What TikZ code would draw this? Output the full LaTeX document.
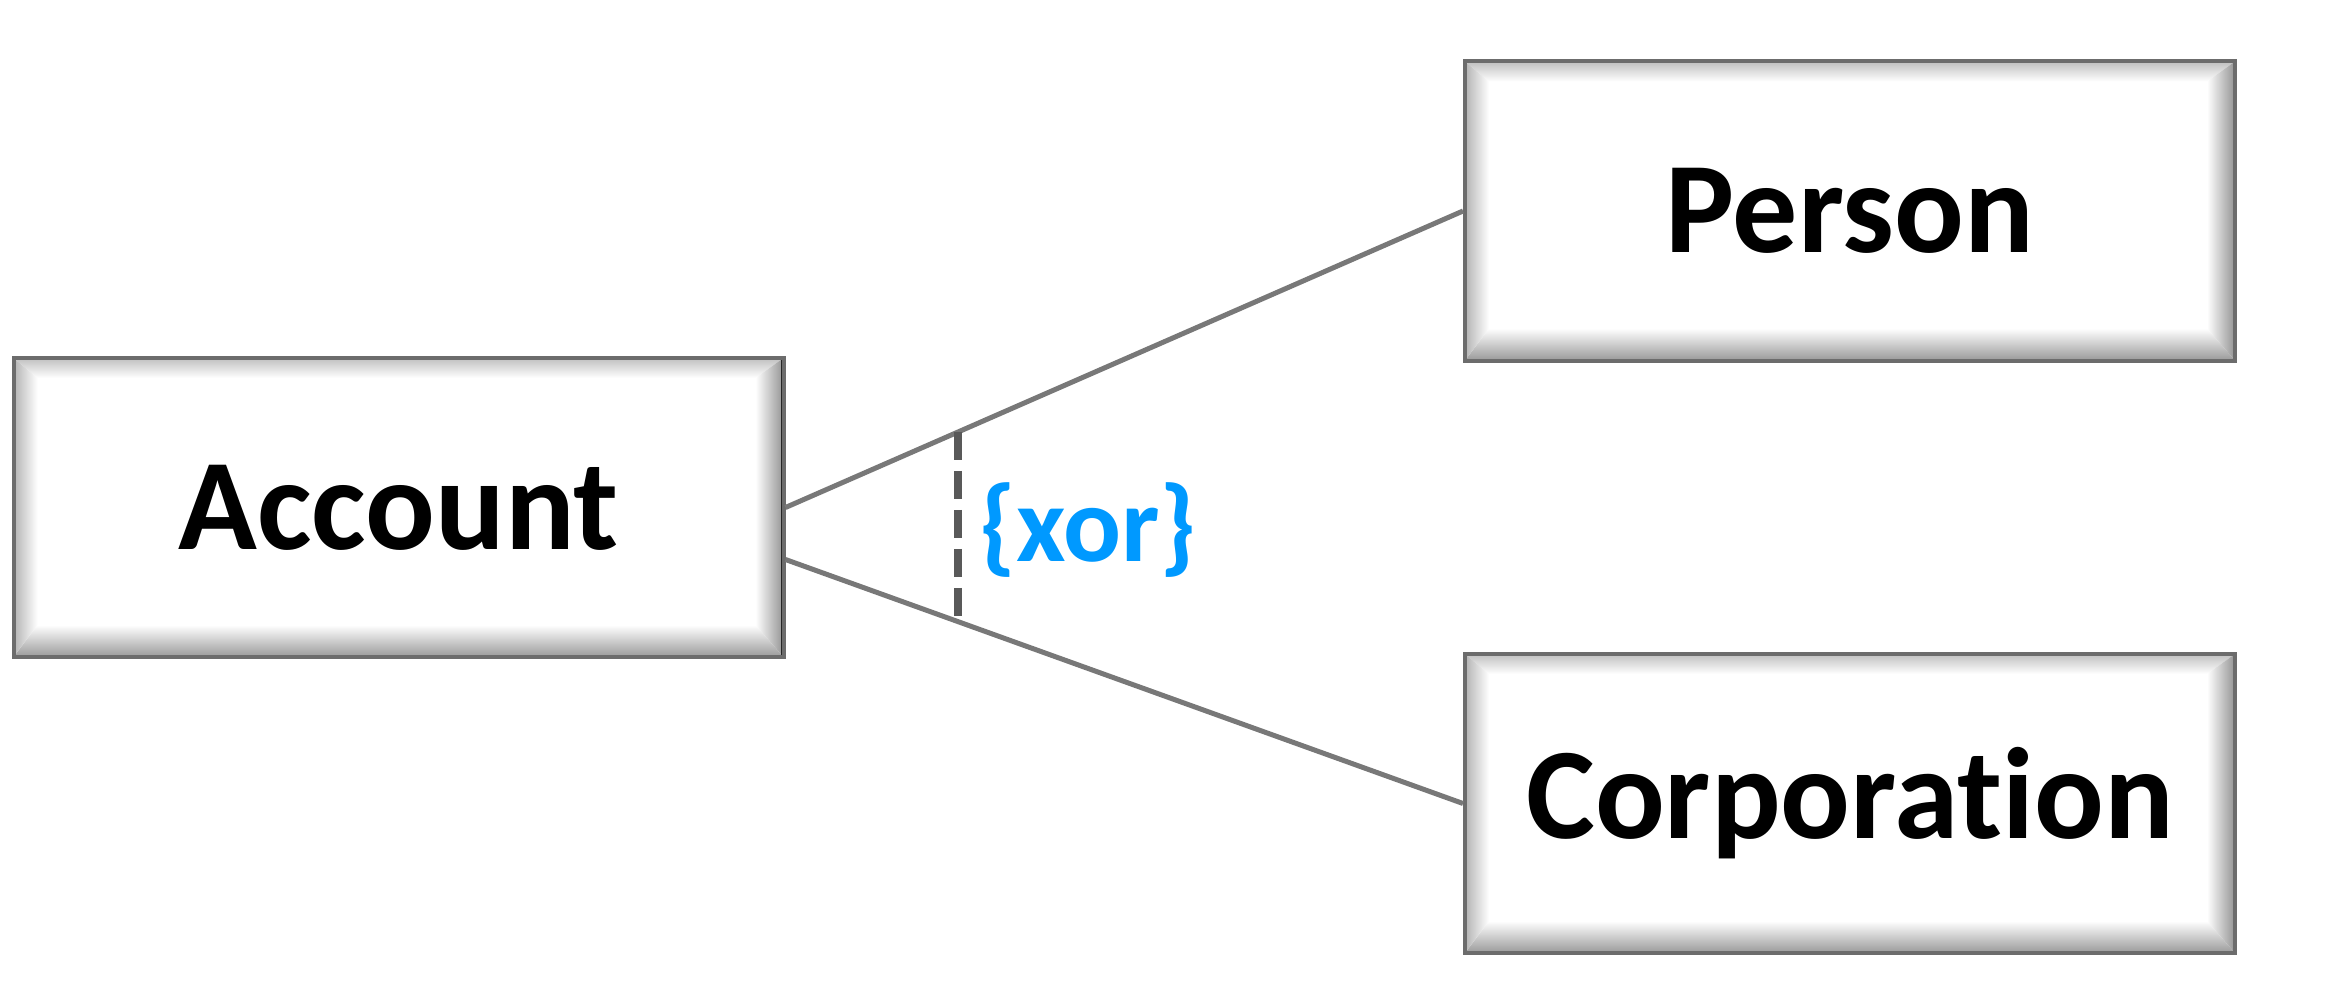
\documentclass[tikz,border=0pt]{standalone}
\usepackage{fontspec}
\setmainfont{Carlito}[Ligatures={NoCommon}]
\usetikzlibrary{calc}
\definecolor{xorblue}{RGB}{0,153,255}
\definecolor{linegray}{RGB}{120,120,120}
\definecolor{dashgray}{RGB}{89,89,89}
\tikzset{
  bevelbox/.style={
    rectangle, inner sep=0pt, minimum width=770pt, minimum height=299pt,
    fill=white, draw=gray!85!black, line width=4pt,
    font=\fontsize{130}{150}\selectfont\bfseries,
    path picture={
      \coordinate (nw) at (path picture bounding box.north west);
      \coordinate (ne) at (path picture bounding box.north east);
      \coordinate (sw) at (path picture bounding box.south west);
      \coordinate (se) at (path picture bounding box.south east);
      % top bevel
      \shade[top color=gray!50, bottom color=white]
        (nw) -- (ne) -- ($(ne)+(-28pt,-20pt)$) -- ($(nw)+(24pt,-20pt)$) -- cycle;
      % bottom bevel
      \shade[top color=white, bottom color=gray!80]
        (sw) -- (se) -- ($(se)+(-28pt,32pt)$) -- ($(sw)+(24pt,32pt)$) -- cycle;
      % left bevel
      \shade[left color=gray!60, right color=white]
        (nw) -- ($(nw)+(24pt,-20pt)$) -- ($(sw)+(24pt,32pt)$) -- (sw) -- cycle;
      % right bevel
      \shade[left color=white, right color=gray!85]
        (ne) -- ($(ne)+(-28pt,-20pt)$) -- ($(se)+(-28pt,32pt)$) -- (se) -- cycle;
      \draw[line width=5pt, black!85] (ne) -- (se);
    }
  },
  link/.style={draw=linegray, line width=5pt},
  xorline/.style={draw=dashgray, line width=8pt, dash pattern=on 28pt off 11pt},
  xorlabel/.style={text=xorblue, font=\fontsize{108}{120}\selectfont\bfseries, inner sep=0pt}
}
\begin{document}
\begin{tikzpicture}[x=1pt,y=-1pt]
  \useasboundingbox (0,0) rectangle (2348,1000);
  \node[bevelbox] (account) at (398.5,507.5) {Account};
  \node[bevelbox] (person) at (1850,211) {Person};
  \node[bevelbox] (corp) at (1850,803.5) {Corporation};
  \coordinate (acclow) at ([yshift=-52pt]account.east);
  \draw[link] (account.east) -- (person.west) coordinate[pos=0.2548] (xtop);
  \draw[link] (acclow) -- (corp.west) coordinate[pos=0.2548] (xbot);
  \draw[xorline] (xtop) -- (xbot);
  \node[xorlabel] (xor) at (1088,530) {\{xor\}};
\end{tikzpicture}
\end{document}
